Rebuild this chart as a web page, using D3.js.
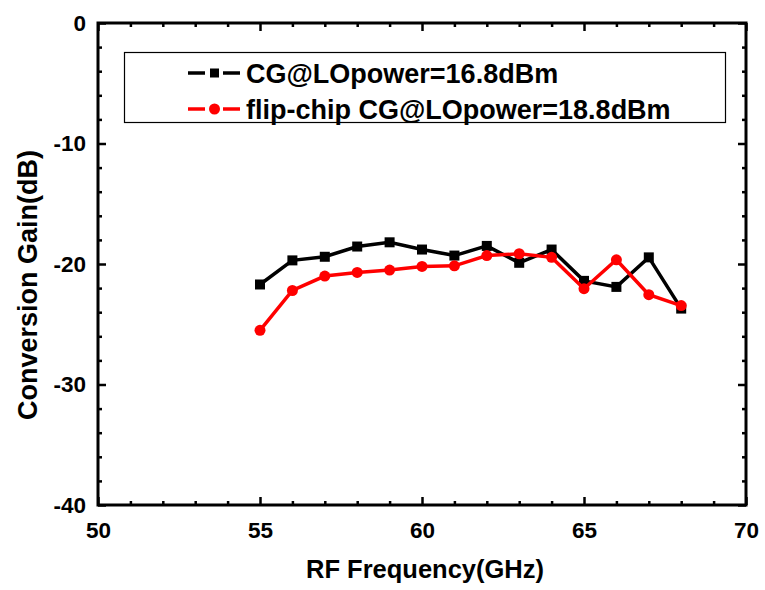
<!DOCTYPE html>
<html>
<head>
<meta charset="utf-8">
<script src="https://cdn.jsdelivr.net/npm/d3@7"></script>
<style>
  body { margin: 0; background: #fff; }
  svg text { font-family: "Liberation Sans", Arial, sans-serif; font-weight: bold; }
</style>
</head>
<body>
<svg id="chart" width="765" height="590"></svg>
<script>
// //////// DATA
const freqs = [55, 56, 57, 58, 59, 60, 61, 62, 63, 64, 65, 66, 67, 68];
const cgValues = [-21.7, -19.7, -19.4, -18.55, -18.2, -18.8, -19.3, -18.5, -19.9, -18.8, -21.4, -21.9, -19.45, -23.7];
const flipValues = [-25.5, -22.2, -21.0, -20.7, -20.5, -20.2, -20.15, -19.3, -19.15, -19.45, -22.05, -19.65, -22.55, -23.45];
const seriesNames = ["CG@LOpower=16.8dBm", "flip-chip CG@LOpower=18.8dBm"];
const xTicks = [50, 55, 60, 65, 70];
const yTicks = [0, -10, -20, -30, -40];

// //////// LAYOUT
const margin = { left: 98, right: 746, top: 23, bottom: 505 };

const svg = d3.select("#chart");

const x = d3.scaleLinear().domain([50, 70]).range([margin.left, margin.right]);
const y = d3.scaleLinear().domain([-40, 0]).range([margin.bottom, margin.top]);

// plain hyphen for negatives, like the original
const fmt = (d) => String(d);

// Ticks on all four sides, pointing inward
function drawAxis(axis, transform, labels) {
  const g = svg.append("g").attr("transform", transform).call(axis);
  g.select(".domain").remove();
  g.selectAll("line").attr("stroke", "#000").attr("stroke-width", 2.5);
  if (!labels) g.selectAll("text").remove();
  return g;
}

const minorX = d3.range(50, 71, 1).filter((d) => d % 5 !== 0);
const minorY = d3.range(-40, 1, 2).filter((d) => d % 10 !== 0);

// bottom
const bx = drawAxis(
  d3.axisBottom(x).tickValues(xTicks).tickSize(-8).tickPadding(17).tickFormat(fmt),
  `translate(0,${margin.bottom})`, true);
bx.selectAll("text").attr("font-size", 22.5).attr("fill", "#000");
drawAxis(d3.axisBottom(x).tickValues(minorX).tickSize(-4), `translate(0,${margin.bottom})`, false);
// top
drawAxis(d3.axisTop(x).tickValues(xTicks).tickSize(-8), `translate(0,${margin.top})`, false);
drawAxis(d3.axisTop(x).tickValues(minorX).tickSize(-4), `translate(0,${margin.top})`, false);
// left
const ly = drawAxis(
  d3.axisLeft(y).tickValues(yTicks).tickSize(-8).tickPadding(12).tickFormat(fmt),
  `translate(${margin.left},0)`, true);
ly.selectAll("text").attr("font-size", 22.5).attr("fill", "#000");
drawAxis(d3.axisLeft(y).tickValues(minorY).tickSize(-4), `translate(${margin.left},0)`, false);
// right
drawAxis(d3.axisRight(y).tickValues(yTicks).tickSize(-8), `translate(${margin.right},0)`, false);
drawAxis(d3.axisRight(y).tickValues(minorY).tickSize(-4), `translate(${margin.right},0)`, false);

// frame
svg.append("rect")
  .attr("x", margin.left)
  .attr("y", margin.top)
  .attr("width", margin.right - margin.left)
  .attr("height", margin.bottom - margin.top)
  .attr("fill", "none")
  .attr("stroke", "#000")
  .attr("stroke-width", 3);

// axis titles
svg.append("text")
  .attr("x", 425)
  .attr("y", 578)
  .attr("text-anchor", "middle")
  .attr("font-size", 25.5)
  .text("RF Frequency(GHz)");

svg.append("text")
  .attr("transform", `translate(37,285) rotate(-90)`)
  .attr("text-anchor", "middle")
  .attr("font-size", 27)
  .text("Conversion Gain(dB)");

// //////// SERIES
const line = d3.line().x((d) => x(d[0])).y((d) => y(d[1]));

const cgData = freqs.map((f, i) => [f, cgValues[i]]);
const flipData = freqs.map((f, i) => [f, flipValues[i]]);

function drawSeries(data, color, shape) {
  const g = svg.append("g");
  g.append("path")
    .datum(data)
    .attr("d", line)
    .attr("fill", "none")
    .attr("stroke", color)
    .attr("stroke-width", 3.5);
  if (shape === "square") {
    g.selectAll("rect").data(data).join("rect")
      .attr("x", (d) => x(d[0]) - 5)
      .attr("y", (d) => y(d[1]) - 5)
      .attr("width", 10)
      .attr("height", 10)
      .attr("fill", color);
  } else {
    g.selectAll("circle").data(data).join("circle")
      .attr("cx", (d) => x(d[0]))
      .attr("cy", (d) => y(d[1]))
      .attr("r", 5.5)
      .attr("fill", color);
  }
}

drawSeries(cgData, "#000", "square");
drawSeries(flipData, "#ff0000", "circle");

// //////// LEGEND
svg.append("rect")
  .attr("x", 124.5)
  .attr("y", 52.5)
  .attr("width", 601)
  .attr("height", 70)
  .attr("fill", "none")
  .attr("stroke", "#000")
  .attr("stroke-width", 1.2);

const legendItems = [
  { name: seriesNames[0], color: "#000", shape: "square", yPos: 73 },
  { name: seriesNames[1], color: "#ff0000", shape: "circle", yPos: 109 },
];

legendItems.forEach((item) => {
  const g = svg.append("g");
  g.append("line").attr("x1", 188).attr("x2", 205).attr("y1", item.yPos).attr("y2", item.yPos)
    .attr("stroke", item.color).attr("stroke-width", 3.5);
  g.append("line").attr("x1", 223).attr("x2", 240).attr("y1", item.yPos).attr("y2", item.yPos)
    .attr("stroke", item.color).attr("stroke-width", 3.5);
  if (item.shape === "square") {
    g.append("rect").attr("x", 210).attr("y", item.yPos - 4.5).attr("width", 9).attr("height", 9)
      .attr("fill", item.color);
  } else {
    g.append("circle").attr("cx", 214.5).attr("cy", item.yPos).attr("r", 5.5).attr("fill", item.color);
  }
  g.append("text")
    .attr("x", 246)
    .attr("y", item.yPos)
    .attr("dy", "0.36em")
    .attr("font-size", 27)
    .text(item.name);
});
</script>
</body>
</html>
